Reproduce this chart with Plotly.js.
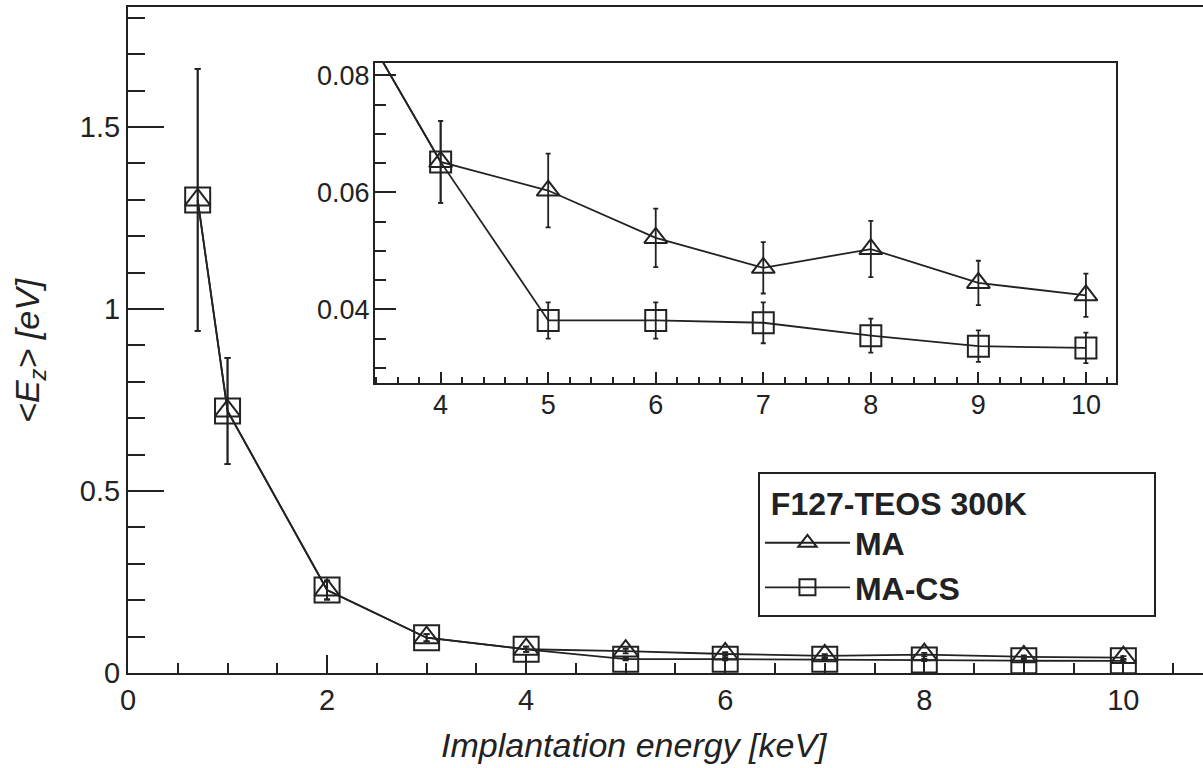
<!DOCTYPE html>
<html>
<head>
<meta charset="utf-8">
<script src="https://cdn.plot.ly/plotly-3.0.1.min.js"></script>
<style>html,body{margin:0;padding:0;background:#fff;overflow:hidden}</style>
</head>
<body>
<div id="chart" style="width:1203px;height:768px"></div>
<script>
// Implantation energy [keV]
const energy = [0.7, 1, 2, 3, 4, 5, 6, 7, 8, 9, 10];
// <Ez> [eV] for MA
const maValues = [1.30, 0.72, 0.228, 0.097, 0.0652, 0.0603, 0.0522, 0.0471, 0.0503, 0.0445, 0.0424];
const maErrors = [0.36, 0.146, 0.026, 0.010, 0.0070, 0.0063, 0.0050, 0.0044, 0.0048, 0.0038, 0.0037];
// <Ez> [eV] for MA-CS
const macsValues = [1.30, 0.72, 0.228, 0.097, 0.0652, 0.0381, 0.0381, 0.0377, 0.0355, 0.0337, 0.0334];
const macsErrors = [0.36, 0.146, 0.026, 0.010, 0.0070, 0.0031, 0.0031, 0.0035, 0.0029, 0.0027, 0.0026];

const seriesNames = ['MA', 'MA-CS'];
const legendTitle = 'F127-TEOS 300K';
const xTitle = 'Implantation energy [keV]';
const yTitle = '&lt;E<sub>z</sub>&gt; [eV]';

const ink = '#222';
const FONT = 'Liberation Sans, Arial, Helvetica, sans-serif';

function trace(y, err, name, symbol, size, xa, ya, showlegend, capw) {
  return {
    x: energy, y: y, name: name, type: 'scatter', mode: 'lines+markers',
    xaxis: xa, yaxis: ya, showlegend: showlegend, cliponaxis: true,
    line: {color: ink, width: 1.8},
    marker: {symbol: symbol, size: size, color: ink, line: {color: ink, width: 2}},
    error_y: {type: 'data', array: err, visible: true, color: ink, thickness: 1.8, width: capw}
  };
}

const data = [
  trace(maValues, maErrors, seriesNames[0], 'triangle-up-open', 22, 'x', 'y', true, 3),
  trace(macsValues, macsErrors, seriesNames[1], 'square-open', 25, 'x', 'y', true, 3),
  trace(maValues, maErrors, seriesNames[0], 'triangle-up-open', 20, 'x2', 'y2', false, 2.5),
  trace(macsValues, macsErrors, seriesNames[1], 'square-open', 21, 'x2', 'y2', false, 2.5)
];

const tickFont = {family: FONT, size: 29, color: ink};
const insetFont = {family: FONT, size: 27, color: ink};
const pad = n => '&nbsp;'.repeat(n);

const layout = {
  width: 1203, height: 768,
  margin: {l: 128, r: 0, t: 7, b: 95},
  paper_bgcolor: '#fff', plot_bgcolor: '#fff',
  font: {family: FONT, color: ink},
  xaxis: {
    range: [0, 10.8], showgrid: false, zeroline: false,
    showline: true, linecolor: ink, linewidth: 2, mirror: true,
    ticks: 'inside', ticklen: 18, tickwidth: 2, tickcolor: ink,
    tick0: 0, dtick: 2, tickfont: tickFont, ticklabelstandoff: 0,
    minor: {ticks: 'inside', dtick: 0.5, ticklen: 10, tickwidth: 2, tickcolor: ink, showgrid: false}
  },
  yaxis: {
    range: [0, 1.83], showgrid: false, zeroline: false,
    showline: true, linecolor: ink, linewidth: 2, mirror: false,
    ticks: 'inside', ticklen: 36, tickwidth: 2, tickcolor: ink,
    tick0: 0, dtick: 0.5, tickfont: tickFont, ticklabelstandoff: 0,
    minor: {ticks: 'inside', dtick: 0.1, ticklen: 17, tickwidth: 2, tickcolor: ink, showgrid: false}
  },
  xaxis2: {
    domain: [0.2298, 0.9191], anchor: 'y2',
    range: [3.39, 10.28], showgrid: false, zeroline: false,
    showline: true, linecolor: ink, linewidth: 2, mirror: true,
    ticks: 'inside', ticklen: 11, tickwidth: 2, tickcolor: ink,
    tick0: 0, dtick: 1, tickfont: insetFont, ticklabelstandoff: -3,
    minor: {ticks: 'inside', dtick: 0.2, ticklen: 6, tickwidth: 2, tickcolor: ink, showgrid: false}
  },
  yaxis2: {
    domain: [0.4354, 0.9159], anchor: 'x2',
    range: [0.0274, 0.0821], showgrid: false, zeroline: false,
    showline: true, linecolor: ink, linewidth: 2, mirror: true,
    ticks: 'inside', ticklen: 21, tickwidth: 2, tickcolor: ink,
    tick0: 0, dtick: 0.02, tickfont: insetFont, ticklabelstandoff: -2,
    minor: {ticks: 'inside', dtick: 0.005, ticklen: 11, tickwidth: 2, tickcolor: ink, showgrid: false}
  },
  showlegend: true,
  legend: {
    x: 0.586, y: 0.302, xanchor: 'left', yanchor: 'top',
    bgcolor: '#fff', bordercolor: ink, borderwidth: 2,
    font: {family: FONT, size: 32, color: ink, weight: 'bold'},
    title: {text: '<b>' + pad(1) + legendTitle + pad(14) + '</b>', font: {family: FONT, size: 32, color: ink}},
    itemwidth: 85, tracegroupgap: 0
  },
  annotations: [
    {text: xTitle, xref: 'paper', yref: 'paper', x: 0.4707, y: -0.108, xanchor: 'center', yanchor: 'middle',
     showarrow: false, font: {family: FONT, size: 34, color: ink, style: 'italic'}},
    {text: yTitle, xref: 'paper', yref: 'paper', x: -0.0912, y: 0.485, xanchor: 'center', yanchor: 'middle',
     textangle: -90, showarrow: false, font: {family: FONT, size: 34, color: ink, style: 'italic'}}
  ]
};

Plotly.newPlot('chart', data, layout, {displayModeBar: false, staticPlot: true});
</script>
</body>
</html>
